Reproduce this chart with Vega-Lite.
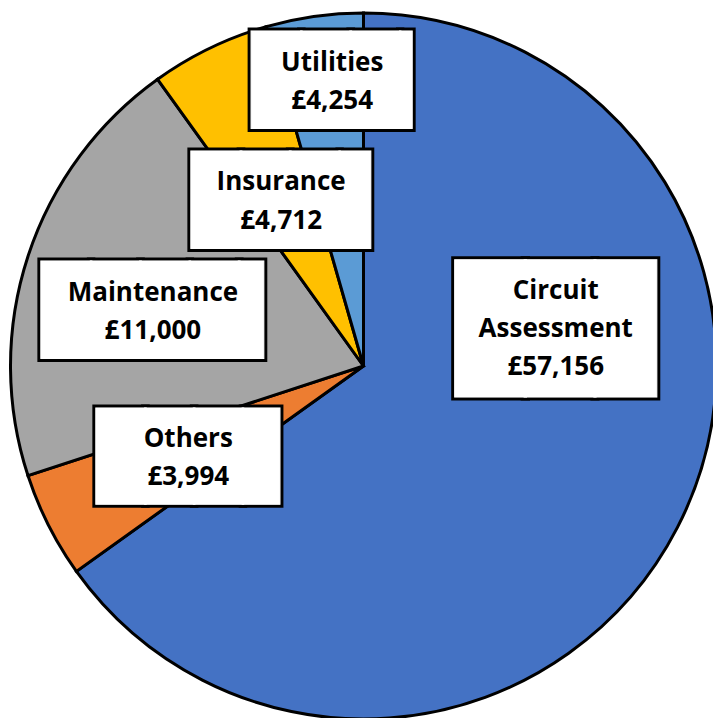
{
  "$schema": "https://vega.github.io/schema/vega-lite/v6.json",
  "width": 713,
  "height": 718,
  "autosize": {"type": "none"},
  "padding": {"left": 7, "top": 7, "right": -7, "bottom": -7},
  "background": "white",
  "config": {
    "view": {"stroke": null},
    "locale": {"number": {"decimal": ".", "thousands": ",", "grouping": [3], "currency": ["£", ""]}}
  },
  "data": {
    "values": [
      {"category": "Circuit Assessment", "amount": 57156, "share": 65.11, "order": 1},
      {"category": "Others", "amount": 3994, "share": 4.86, "order": 2},
      {"category": "Maintenance", "amount": 11000, "share": 20.11, "order": 3},
      {"category": "Insurance", "amount": 4712, "share": 5.47, "order": 4},
      {"category": "Utilities", "amount": 4254, "share": 4.44, "order": 5}
    ]
  },
  "encoding": {
    "theta": {"field": "share", "type": "quantitative", "stack": true},
    "detail": {"field": "category", "type": "nominal"},
    "order": {"field": "order", "type": "quantitative"}
  },
  "layer": [
    {
      "mark": {"type": "arc", "outerRadius": 353, "stroke": "black", "strokeWidth": 3},
      "encoding": {
        "color": {"field": "category", "type": "nominal", "legend": null,
          "scale": {"domain": ["Circuit Assessment", "Others", "Maintenance", "Insurance", "Utilities"],
                    "range": ["#4472C4", "#ED7D31", "#A5A5A5", "#FFC000", "#5B9BD5"]}}
      }
    },

    {"mark": {"type": "text", "radius": 288, "font": "DejaVu Sans Mono", "fontSize": 82, "baseline": "alphabetic", "align": "left", "dx": -80.2, "dy": 28.4, "fill": "black", "stroke": "black", "strokeWidth": 7},
     "encoding": {"theta": {"field": "share", "type": "quantitative", "stack": true, "bandPosition": 0.61},
       "text": {"condition": {"test": "datum.category === 'Utilities'", "value": "███▎"}, "value": ""}}},
    {"mark": {"type": "text", "radius": 288, "font": "DejaVu Sans Mono", "fontSize": 82, "baseline": "alphabetic", "align": "left", "dx": -80.2, "dy": 28.4, "fill": "white", "stroke": "white", "strokeWidth": 1},
     "encoding": {"theta": {"field": "share", "type": "quantitative", "stack": true, "bandPosition": 0.61},
       "text": {"condition": {"test": "datum.category === 'Utilities'", "value": "███▎"}, "value": ""}}},
    {"mark": {"type": "text", "radius": 288, "font": "Open Sans", "fontWeight": "bold", "fontSize": 26, "baseline": "alphabetic", "align": "center", "dy": -9, "fill": "black"},
     "encoding": {"theta": {"field": "share", "type": "quantitative", "stack": true, "bandPosition": 0.61},
       "text": {"field": "category", "type": "nominal", "condition": {"test": "datum.category !== 'Utilities'", "value": ""}}}},
    {"mark": {"type": "text", "radius": 288, "font": "Open Sans", "fontWeight": "bold", "fontSize": 26, "baseline": "alphabetic", "align": "center", "dy": 29.5, "fill": "black"},
     "encoding": {"theta": {"field": "share", "type": "quantitative", "stack": true, "bandPosition": 0.61},
       "text": {"field": "amount", "type": "quantitative", "format": "$,", "condition": {"test": "datum.category !== 'Utilities'", "value": ""}}}},

    {"mark": {"type": "text", "radius": 186, "font": "DejaVu Sans Mono", "fontSize": 82, "baseline": "alphabetic", "align": "left", "dx": -89.5, "dy": 28.4, "fill": "black", "stroke": "black", "strokeWidth": 7},
     "encoding": {"theta": {"field": "share", "type": "quantitative", "stack": true, "bandPosition": 0.477},
       "text": {"condition": {"test": "datum.category === 'Insurance'", "value": "███▋"}, "value": ""}}},
    {"mark": {"type": "text", "radius": 186, "font": "DejaVu Sans Mono", "fontSize": 82, "baseline": "alphabetic", "align": "left", "dx": -89.5, "dy": 28.4, "fill": "white", "stroke": "white", "strokeWidth": 1},
     "encoding": {"theta": {"field": "share", "type": "quantitative", "stack": true, "bandPosition": 0.477},
       "text": {"condition": {"test": "datum.category === 'Insurance'", "value": "███▋"}, "value": ""}}},
    {"mark": {"type": "text", "radius": 186, "font": "Open Sans", "fontWeight": "bold", "fontSize": 26, "baseline": "alphabetic", "align": "center", "dy": -9, "fill": "black"},
     "encoding": {"theta": {"field": "share", "type": "quantitative", "stack": true, "bandPosition": 0.477},
       "text": {"field": "category", "type": "nominal", "condition": {"test": "datum.category !== 'Insurance'", "value": ""}}}},
    {"mark": {"type": "text", "radius": 186, "font": "Open Sans", "fontWeight": "bold", "fontSize": 26, "baseline": "alphabetic", "align": "center", "dy": 29.5, "fill": "black"},
     "encoding": {"theta": {"field": "share", "type": "quantitative", "stack": true, "bandPosition": 0.477},
       "text": {"field": "amount", "type": "quantitative", "format": "$,", "condition": {"test": "datum.category !== 'Insurance'", "value": ""}}}},

    {"mark": {"type": "text", "radius": 218, "font": "DejaVu Sans Mono", "fontSize": 82, "baseline": "alphabetic", "align": "left", "dx": -111.1, "dy": 28.4, "fill": "black", "stroke": "black", "strokeWidth": 7},
     "encoding": {"theta": {"field": "share", "type": "quantitative", "stack": true, "bandPosition": 0.457},
       "text": {"condition": {"test": "datum.category === 'Maintenance'", "value": "████▌"}, "value": ""}}},
    {"mark": {"type": "text", "radius": 218, "font": "DejaVu Sans Mono", "fontSize": 82, "baseline": "alphabetic", "align": "left", "dx": -111.1, "dy": 28.4, "fill": "white", "stroke": "white", "strokeWidth": 1},
     "encoding": {"theta": {"field": "share", "type": "quantitative", "stack": true, "bandPosition": 0.457},
       "text": {"condition": {"test": "datum.category === 'Maintenance'", "value": "████▌"}, "value": ""}}},
    {"mark": {"type": "text", "radius": 218, "font": "Open Sans", "fontWeight": "bold", "fontSize": 26, "baseline": "alphabetic", "align": "center", "dy": -9, "fill": "black"},
     "encoding": {"theta": {"field": "share", "type": "quantitative", "stack": true, "bandPosition": 0.457},
       "text": {"field": "category", "type": "nominal", "condition": {"test": "datum.category !== 'Maintenance'", "value": ""}}}},
    {"mark": {"type": "text", "radius": 218, "font": "Open Sans", "fontWeight": "bold", "fontSize": 26, "baseline": "alphabetic", "align": "center", "dy": 29.5, "fill": "black"},
     "encoding": {"theta": {"field": "share", "type": "quantitative", "stack": true, "bandPosition": 0.457},
       "text": {"field": "amount", "type": "quantitative", "format": "$,", "condition": {"test": "datum.category !== 'Maintenance'", "value": ""}}}},

    {"mark": {"type": "text", "radius": 197, "font": "DejaVu Sans Mono", "fontSize": 81, "baseline": "alphabetic", "align": "left", "dx": -91.45, "dy": 28.0, "fill": "black", "stroke": "black", "strokeWidth": 7},
     "encoding": {"theta": {"field": "share", "type": "quantitative", "stack": true, "bandPosition": 0.48},
       "text": {"condition": {"test": "datum.category === 'Others'", "value": "███▊"}, "value": ""}}},
    {"mark": {"type": "text", "radius": 197, "font": "DejaVu Sans Mono", "fontSize": 81, "baseline": "alphabetic", "align": "left", "dx": -91.45, "dy": 28.0, "fill": "white", "stroke": "white", "strokeWidth": 1},
     "encoding": {"theta": {"field": "share", "type": "quantitative", "stack": true, "bandPosition": 0.48},
       "text": {"condition": {"test": "datum.category === 'Others'", "value": "███▊"}, "value": ""}}},
    {"mark": {"type": "text", "radius": 197, "font": "Open Sans", "fontWeight": "bold", "fontSize": 26, "baseline": "alphabetic", "align": "center", "dy": -9, "fill": "black"},
     "encoding": {"theta": {"field": "share", "type": "quantitative", "stack": true, "bandPosition": 0.48},
       "text": {"field": "category", "type": "nominal", "condition": {"test": "datum.category !== 'Others'", "value": ""}}}},
    {"mark": {"type": "text", "radius": 197, "font": "Open Sans", "fontWeight": "bold", "fontSize": 26, "baseline": "alphabetic", "align": "center", "dy": 29.5, "fill": "black"},
     "encoding": {"theta": {"field": "share", "type": "quantitative", "stack": true, "bandPosition": 0.48},
       "text": {"field": "amount", "type": "quantitative", "format": "$,", "condition": {"test": "datum.category !== 'Others'", "value": ""}}}},

    {"mark": {"type": "text", "radius": 196, "font": "DejaVu Sans Mono", "fontSize": 115.6, "baseline": "alphabetic", "align": "left", "dx": -100.05, "dy": 40.0, "fill": "black", "stroke": "black", "strokeWidth": 7},
     "encoding": {"theta": {"field": "share", "type": "quantitative", "stack": true, "bandPosition": 0.336},
       "text": {"condition": {"test": "datum.category === 'Circuit Assessment'", "value": "██▉"}, "value": ""}}},
    {"mark": {"type": "text", "radius": 196, "font": "DejaVu Sans Mono", "fontSize": 115.6, "baseline": "alphabetic", "align": "left", "dx": -100.05, "dy": 40.0, "fill": "white", "stroke": "white", "strokeWidth": 1},
     "encoding": {"theta": {"field": "share", "type": "quantitative", "stack": true, "bandPosition": 0.336},
       "text": {"condition": {"test": "datum.category === 'Circuit Assessment'", "value": "██▉"}, "value": ""}}},
    {"mark": {"type": "text", "radius": 196, "font": "Open Sans", "fontWeight": "bold", "fontSize": 26, "lineBreak": " ", "lineHeight": 38.3, "baseline": "alphabetic", "align": "center", "dy": -29.2, "fill": "black"},
     "encoding": {"theta": {"field": "share", "type": "quantitative", "stack": true, "bandPosition": 0.336},
       "text": {"field": "category", "type": "nominal", "condition": {"test": "datum.category !== 'Circuit Assessment'", "value": ""}}}},
    {"mark": {"type": "text", "radius": 196, "font": "Open Sans", "fontWeight": "bold", "fontSize": 26, "baseline": "alphabetic", "align": "center", "dy": 47.5, "fill": "black"},
     "encoding": {"theta": {"field": "share", "type": "quantitative", "stack": true, "bandPosition": 0.336},
       "text": {"field": "amount", "type": "quantitative", "format": "$,", "condition": {"test": "datum.category !== 'Circuit Assessment'", "value": ""}}}}
  ]
}
